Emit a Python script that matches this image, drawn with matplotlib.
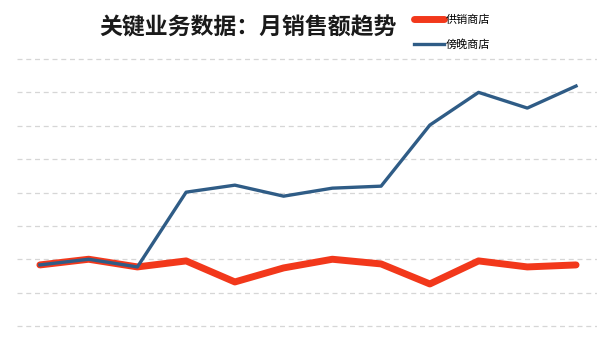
import matplotlib
matplotlib.use('Agg')
import matplotlib.pyplot as plt

plt.rcParams['font.family'] = ['Noto Sans CJK SC', 'DejaVu Sans']

# 月份序号与两家商店的销售额（相对刻度）
months = list(range(1, 13))
gongxiao = [1.83, 2.0, 1.77, 1.95, 1.32, 1.74, 2.0, 1.86, 1.26, 1.95, 1.77, 1.83]
bangwan = [1.83, 2.0, 1.77, 4.01, 4.22, 3.89, 4.13, 4.19, 6.02, 7.0, 6.53, 7.19]
series_names = ['供销商店', '傍晚商店']

fig = plt.figure(figsize=(6.01, 3.52), dpi=100)
ax = fig.add_axes([17 / 601, 24 / 352, 580 / 601, 271 / 352])

ax.plot(months, gongxiao, color='#F2381B', linewidth=5, solid_capstyle='round',
        solid_joinstyle='round', label=series_names[0], zorder=2)
ax.plot(months, bangwan, color='#2F5C86', linewidth=2.4, solid_joinstyle='round',
        label=series_names[1], zorder=3)

ax.set_xlim(0.53, 12.43)
ax.set_ylim(-0.06, 8.06)
ax.set_yticks(range(0, 9))
ax.yaxis.grid(True, linestyle=(0, (4, 3)), color='#d6d6d6', linewidth=0.9)
ax.set_axisbelow(True)
ax.set_xticks([])
ax.tick_params(left=False, labelleft=False)
for s in ax.spines.values():
    s.set_visible(False)

fig.text(0.412, 0.922, '关键业务数据：月销售额趋势', ha='center', va='center',
         fontsize=16.5, color='#1a1a1a', fontweight='bold')

leg = fig.legend(loc='upper left', bbox_to_anchor=(410 / 601, 1 - 10 / 352),
                 frameon=False, fontsize=8, handlelength=2.7, handletextpad=0.15,
                 labelspacing=1.3, borderaxespad=0)

fig.savefig('out.png', dpi=100, facecolor='white')
